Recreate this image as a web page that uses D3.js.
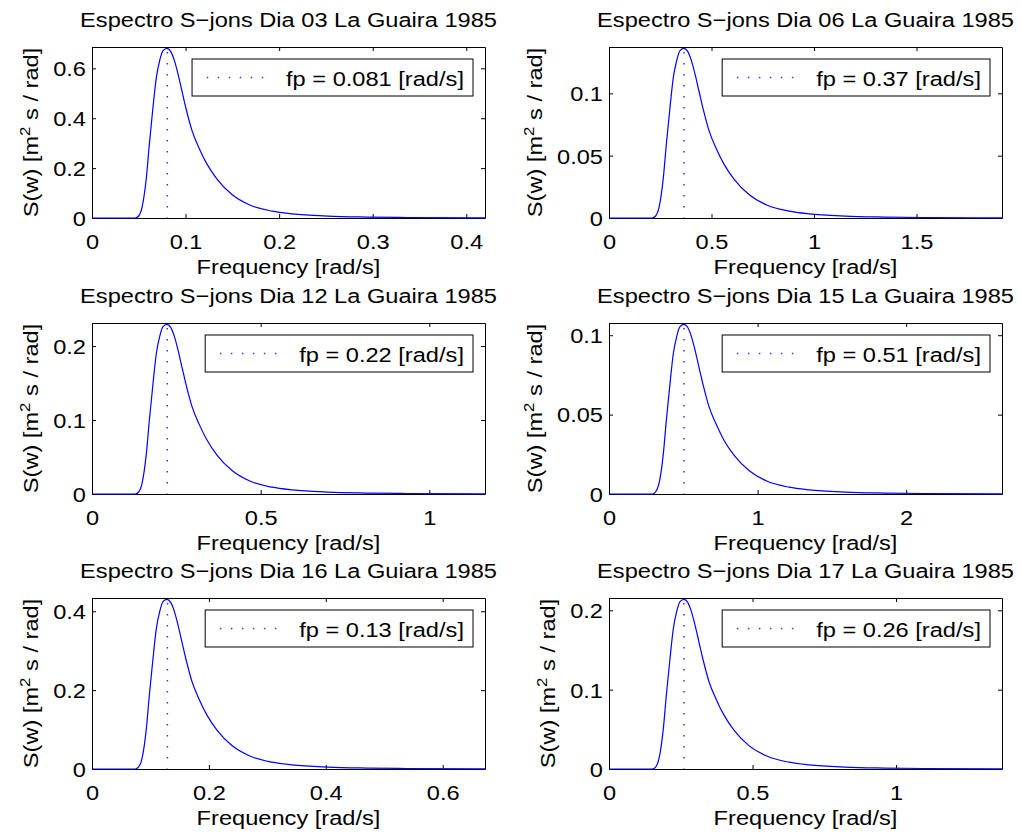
<!DOCTYPE html>
<html>
<head>
<meta charset="utf-8">
<script src="https://cdn.jsdelivr.net/npm/d3@7"></script>
<style>
body { margin: 0; background: #fff; }
text { font-family: "Liberation Sans", Arial, Helvetica, sans-serif; fill: #000; }
</style>
</head>
<body>
<div id="fig"></div>
<script>
// titles, one per subplot (row by row)
const titles = [
    "Espectro S\u2212jons Dia 03 La Guaira 1985",
    "Espectro S\u2212jons Dia 06 La Guaira 1985",
    "Espectro S\u2212jons Dia 12 La Guaira 1985",
    "Espectro S\u2212jons Dia 15 La Guaira 1985",
    "Espectro S\u2212jons Dia 16 La Guiara 1985",
    "Espectro S\u2212jons Dia 17 La Guaira 1985"
];
const fpLabels = ["0.081", "0.37", "0.22", "0.51", "0.13", "0.26"];
const fpPos = [0.0805, 0.366, 0.223, 0.505, 0.129, 0.261];
const xMax = [0.42, 1.917, 1.165, 2.645, 0.6724, 1.369];
const yMax = [0.6855, 0.1372, 0.2312, 0.1077, 0.4336, 0.2155];
const xTicks = [[0, 0.1, 0.2, 0.3, 0.4], [0, 0.5, 1, 1.5], [0, 0.5, 1], [0, 1, 2], [0, 0.2, 0.4, 0.6], [0, 0.5, 1]];
const yTicks = [[0, 0.2, 0.4, 0.6], [0, 0.05, 0.1], [0, 0.1, 0.2], [0, 0.05, 0.1], [0, 0.2, 0.4], [0, 0.1, 0.2]];

// spectra
const freqDia03 = [0, 0.0463, 0.0499, 0.0534, 0.0581, 0.0613, 0.0648, 0.0688, 0.0723, 0.0759, 0.0801, 0.0841, 0.0880, 0.0919, 0.0962, 0.1008, 0.1069, 0.1147, 0.1229, 0.1336, 0.1496, 0.1692, 0.1924, 0.2137, 0.252, 0.294, 0.336, 0.42];
const specDia03 = [0, 0, 0.008, 0.0415, 0.162, 0.296, 0.430, 0.5635, 0.6307, 0.6708, 0.680, 0.668, 0.632, 0.578, 0.508, 0.434, 0.350, 0.278, 0.216, 0.156, 0.094, 0.051, 0.0274, 0.0165, 0.0075, 0.0038, 0.0021, 0.0007];
const freqDia06 = [0, 0.2114, 0.2275, 0.2438, 0.2651, 0.2797, 0.296, 0.3138, 0.3301, 0.3464, 0.3658, 0.3838, 0.4016, 0.4194, 0.439, 0.4601, 0.4879, 0.5235, 0.5609, 0.6096, 0.6828, 0.7724, 0.878, 0.9756, 1.150, 1.342, 1.534, 1.917];
const specDia06 = [0, 0, 0.0016, 0.0083, 0.0324, 0.0592, 0.086, 0.1128, 0.1262, 0.1343, 0.1361, 0.1337, 0.1265, 0.1157, 0.1017, 0.0869, 0.0701, 0.0556, 0.0432, 0.0312, 0.0188, 0.0102, 0.0055, 0.0033, 0.0015, 0.00075, 0.0004, 0.00014];
const freqDia12 = [0, 0.1285, 0.1383, 0.1482, 0.1611, 0.17, 0.1799, 0.1907, 0.2006, 0.2105, 0.2223, 0.2332, 0.2441, 0.2549, 0.2668, 0.2796, 0.2965, 0.3182, 0.3409, 0.3705, 0.415, 0.4694, 0.5336, 0.5929, 0.699, 0.8155, 0.932, 1.165];
const specDia12 = [0, 0, 0.0027, 0.014, 0.0546, 0.0998, 0.145, 0.19, 0.2127, 0.2262, 0.2294, 0.2253, 0.2132, 0.1949, 0.1713, 0.1464, 0.1181, 0.0938, 0.0729, 0.0526, 0.0317, 0.0172, 0.0092, 0.0055, 0.0025, 0.0013, 0.0007, 0.0002];
const freqDia15 = [0, 0.2917, 0.314, 0.3364, 0.3658, 0.3859, 0.4084, 0.433, 0.4555, 0.478, 0.5047, 0.5295, 0.5541, 0.5787, 0.6057, 0.6348, 0.6731, 0.7223, 0.7739, 0.8411, 0.9421, 1.0657, 1.2114, 1.346, 1.587, 1.8515, 2.116, 2.645];
const specDia15 = [0, 0, 0.0013, 0.0065, 0.0254, 0.0465, 0.0675, 0.0885, 0.0991, 0.1054, 0.1068, 0.105, 0.0993, 0.0908, 0.0798, 0.0682, 0.055, 0.0437, 0.0339, 0.0245, 0.0148, 0.008, 0.0043, 0.0026, 0.0012, 0.0006, 0.0003, 0.0001];
const freqDia16 = [0, 0.0742, 0.0798, 0.0855, 0.093, 0.0981, 0.1038, 0.1101, 0.1158, 0.1215, 0.1283, 0.1346, 0.1409, 0.1471, 0.154, 0.1614, 0.1711, 0.1836, 0.1967, 0.2138, 0.2395, 0.2709, 0.308, 0.3422, 0.4034, 0.4707, 0.5379, 0.6724];
const specDia16 = [0, 0, 0.0051, 0.0262, 0.1025, 0.1871, 0.2719, 0.3564, 0.3989, 0.4243, 0.4301, 0.4225, 0.3998, 0.3656, 0.3213, 0.2745, 0.2214, 0.1758, 0.1366, 0.0987, 0.0594, 0.0323, 0.0173, 0.0104, 0.0048, 0.0024, 0.0013, 0.0004];
const freqDia17 = [0, 0.151, 0.1625, 0.1741, 0.1893, 0.1997, 0.2114, 0.2241, 0.2357, 0.2474, 0.2612, 0.2741, 0.2868, 0.2995, 0.3135, 0.3286, 0.3484, 0.3739, 0.4006, 0.4353, 0.4876, 0.5516, 0.627, 0.6967, 0.8214, 0.9583, 1.0952, 1.369];
const specDia17 = [0, 0, 0.0025, 0.013, 0.0509, 0.093, 0.1351, 0.1771, 0.1983, 0.2109, 0.2138, 0.21, 0.1987, 0.1817, 0.1597, 0.1364, 0.11, 0.0874, 0.0679, 0.049, 0.0295, 0.016, 0.0086, 0.0052, 0.0024, 0.0012, 0.0006, 0.0002];

const freqs = [freqDia03, freqDia06, freqDia12, freqDia15, freqDia16, freqDia17];
const specs = [specDia03, specDia06, specDia12, specDia15, specDia16, specDia17];

const colX = [92, 609];
const rowY = [47, 323, 598];
const axW = 393, axH = 171;
const SX = 1.125;   // text in the picture is a bit wider than Arial
const FS = 21;

const svg = d3.select("#fig").append("svg")
    .attr("width", 1022)
    .attr("height", 834)
    .style("background", "#fff");

function stretch(sel) {
    sel.attr("transform", "scale(" + SX + ",1)").style("font-size", FS + "px");
}

titles.forEach((title, i) => {
    const left = colX[i % 2];
    const top = rowY[Math.floor(i / 2)];
    const x = d3.scaleLinear().domain([0, xMax[i]]).range([0, axW]);
    const y = d3.scaleLinear().domain([0, yMax[i]]).range([axH, 0]);
    const g = svg.append("g").attr("transform", `translate(${left},${top})`);

    // axes, ticks inside on all four sides
    const xb = g.append("g").attr("transform", `translate(0,${axH})`)
        .call(d3.axisBottom(x).tickValues(xTicks[i]).tickFormat(d3.format("~g"))
            .tickSizeInner(-4).tickSizeOuter(0).tickPadding(15.7));
    xb.selectAll("text").call(stretch);

    const yl = g.append("g")
        .call(d3.axisLeft(y).tickValues(yTicks[i]).tickFormat(d3.format("~g"))
            .tickSizeInner(-4).tickSizeOuter(0));
    yl.selectAll("text")
        .attr("x", null)
        .attr("dy", "0.35em")
        .attr("transform", "translate(-6,0) scale(" + SX + ",1)")
        .style("font-size", FS + "px");

    g.append("g")
        .call(d3.axisTop(x).tickValues(xTicks[i]).tickFormat("").tickSizeInner(-4).tickSizeOuter(0));
    g.append("g").attr("transform", `translate(${axW},0)`)
        .call(d3.axisRight(y).tickValues(yTicks[i]).tickFormat("").tickSizeInner(-4).tickSizeOuter(0));
    g.selectAll(".domain, .tick line").attr("stroke", "#000").attr("stroke-width", 1);

    // spectrum
    const pts = d3.zip(freqs[i], specs[i]);
    g.append("path")
        .datum(pts)
        .attr("fill", "none")
        .attr("stroke", "#0000ff")
        .attr("stroke-width", 1.2)
        .attr("d", d3.line().x(d => x(d[0])).y(d => y(d[1])).curve(d3.curveMonotoneX));

    // peak frequency marker
    g.append("line")
        .attr("x1", x(fpPos[i])).attr("x2", x(fpPos[i]))
        .attr("y1", y(0) - 0.5).attr("y2", y(d3.max(specs[i])))
        .attr("stroke", "#3333ff")
        .attr("stroke-width", 1.5)
        .attr("stroke-dasharray", "1.5,9.5")
        .attr("stroke-dashoffset", -10);

    // legend
    const lg = g.append("g");
    const lt = lg.append("text")
        .style("font-size", FS + "px")
        .text(`fp = ${fpLabels[i]} [rad/s]`);
    const tw = lt.node().getComputedTextLength() * SX;
    const bw = 94 + tw + 9, bh = 37;
    const bx = axW - 12 - bw, by = 12;
    lg.insert("rect", "text")
        .attr("x", bx).attr("y", by).attr("width", bw).attr("height", bh)
        .attr("fill", "#fff").attr("stroke", "#000").attr("stroke-width", 1);
    lg.insert("line", "text")
        .attr("x1", bx + 14.7).attr("x2", bx + 79.7)
        .attr("y1", by + 18.5).attr("y2", by + 18.5)
        .attr("stroke", "#3333ff").attr("stroke-width", 1.5)
        .attr("stroke-dasharray", "1.5,9.5");
    lt.attr("transform", `translate(${bx + 94},${by + 27}) scale(${SX},1)`);

    // title and axis labels
    g.append("text")
        .attr("transform", `translate(${axW / 2},-20) scale(${SX},1)`)
        .attr("text-anchor", "middle")
        .style("font-size", FS + "px")
        .text(title);

    g.append("text")
        .attr("transform", `translate(${axW / 2},${axH + 56}) scale(${SX},1)`)
        .attr("text-anchor", "middle")
        .style("font-size", FS + "px")
        .text("Frequency [rad/s]");

    let maxW = 0;
    yl.selectAll("text").each(function () {
        maxW = Math.max(maxW, this.getComputedTextLength() * SX);
    });
    const ylab = g.append("text")
        .attr("transform", `translate(${-6 - maxW - 15},${axH / 2}) rotate(-90) scale(${SX},1)`)
        .attr("text-anchor", "middle")
        .style("font-size", FS + "px");
    ylab.append("tspan").text("S(w) [m");
    ylab.append("tspan").attr("dy", -8).style("font-size", "15px").text("2");
    ylab.append("tspan").attr("dy", 8).text(" s / rad]");
});
</script>
</body>
</html>
